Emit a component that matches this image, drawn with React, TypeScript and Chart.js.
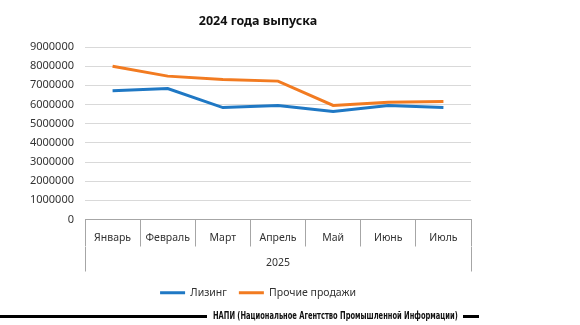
import React, { useEffect, useRef } from "react";
import { Chart, registerables } from "chart.js";

Chart.register(...registerables);

const TITLE = "2024 года выпуска";
const YEAR_LABELS = ["2025"];
const MONTHS = ["Январь", "Февраль", "Март", "Апрель", "Май", "Июнь", "Июль"];
const LEASING = [6720000, 6830000, 5840000, 5950000, 5630000, 5950000, 5840000];
const OTHER = [8000000, 7480000, 7300000, 7220000, 5950000, 6120000, 6160000];
const SERIES_NAMES = ["Лизинг", "Прочие продажи"];
const FOOTER = "НАПИ (Национальное Агентство Промышленной Информации)";

const FONT = "'Noto Sans', sans-serif";

export default function App() {
  const ref = useRef<HTMLCanvasElement | null>(null);

  useEffect(() => {
    document.body.style.margin = "0";
    const ctx = ref.current!.getContext("2d")!;
    const chart = new Chart(ctx, {
      type: "line",
      data: {
        labels: MONTHS,
        datasets: [
          {
            label: SERIES_NAMES[0],
            data: LEASING,
            borderColor: "#1f78c4",
            backgroundColor: "#1f78c4",
            borderWidth: 3,
            pointRadius: 0,
            tension: 0,
            xAxisID: "x",
            yAxisID: "y",
          },
          {
            label: SERIES_NAMES[1],
            data: OTHER,
            borderColor: "#f27b21",
            backgroundColor: "#f27b21",
            borderWidth: 3,
            pointRadius: 0,
            tension: 0,
            xAxisID: "x",
            yAxisID: "y",
          },
        ],
      },
      options: {
        responsive: false,
        animation: false,
        layout: { padding: { left: 0, right: 64, top: 0, bottom: 17 } },
        plugins: {
          tooltip: { enabled: false },
          title: {
            display: true,
            text: TITLE,
            color: "#111",
            font: { family: FONT, size: 12.5, weight: "bold" },
            padding: { top: 14, bottom: 18 },
          },
          legend: {
            position: "bottom",
            labels: {
              usePointStyle: true,
              pointStyle: "line",
              pointStyleWidth: 25,
              boxHeight: 11,
              color: "#333",
              font: { family: FONT, size: 10.5 },
              padding: 12,
            },
          },
        },
        scales: {
          x: {
            type: "category",
            position: "bottom",
            offset: true,
            grid: {
              offset: true,
              drawOnChartArea: false,
              drawTicks: true,
              tickLength: 27,
              color: "#a6a6a6",
            },
            border: { display: true, color: "#a6a6a6" },
            ticks: {
              padding: -15,
              color: "#333",
              font: { family: FONT, size: 10.5 },
              maxRotation: 0,
              autoSkip: false,
            },
            afterFit: (s: any) => {
              s.height = 27;
            },
          },
          x2: {
            type: "category",
            position: "bottom",
            labels: YEAR_LABELS,
            offset: true,
            grid: {
              offset: true,
              drawOnChartArea: false,
              drawTicks: true,
              tickLength: 25,
              color: "#a6a6a6",
            },
            border: { display: false },
            ticks: {
              padding: -15,
              color: "#333",
              font: { family: FONT, size: 10.5 },
              maxRotation: 0,
            },
            afterFit: (s: any) => {
              s.height = 29;
            },
          },
          y: {
            type: "linear",
            position: "left",
            min: 0,
            max: 9000000,
            grid: { color: "#d9d9d9", drawTicks: false },
            border: { display: false },
            ticks: {
              stepSize: 1000000,
              padding: 11,
              color: "#333",
              font: { family: FONT, size: 11 },
              callback: (v: any) => String(v),
            },
            afterFit: (s: any) => {
              s.width = 85;
            },
          },
          yPad: {
            type: "linear",
            position: "right",
            display: true,
            grid: { display: false, drawTicks: false },
            border: { display: false },
            ticks: { display: false },
            afterFit: (s: any) => {
              s.width = 45;
            },
          },
        },
      },
    });
    return () => chart.destroy();
  }, []);

  return (
    <div
      style={{
        position: "fixed",
        left: 0,
        top: 0,
        width: 580,
        height: 325,
        background: "#fff",
        overflow: "hidden",
      }}
    >
      <canvas ref={ref} width={580} height={325} style={{ display: "block" }} />
      <div style={{ position: "absolute", left: 0, top: 315, width: 207, height: 3, background: "#000" }} />
      <div
        style={{
          position: "absolute",
          left: 213,
          top: 309,
          height: 14,
          lineHeight: "14px",
          fontFamily: "'DejaVu Sans Condensed', 'DejaVu Sans', sans-serif",
          fontWeight: "bold",
          fontSize: 10,
          color: "#111",
          whiteSpace: "nowrap",
          transform: "scaleX(0.745)",
          transformOrigin: "left center",
        }}
      >
        {FOOTER}
      </div>
      <div style={{ position: "absolute", left: 463, top: 315, width: 16, height: 3, background: "#000" }} />
    </div>
  );
}
